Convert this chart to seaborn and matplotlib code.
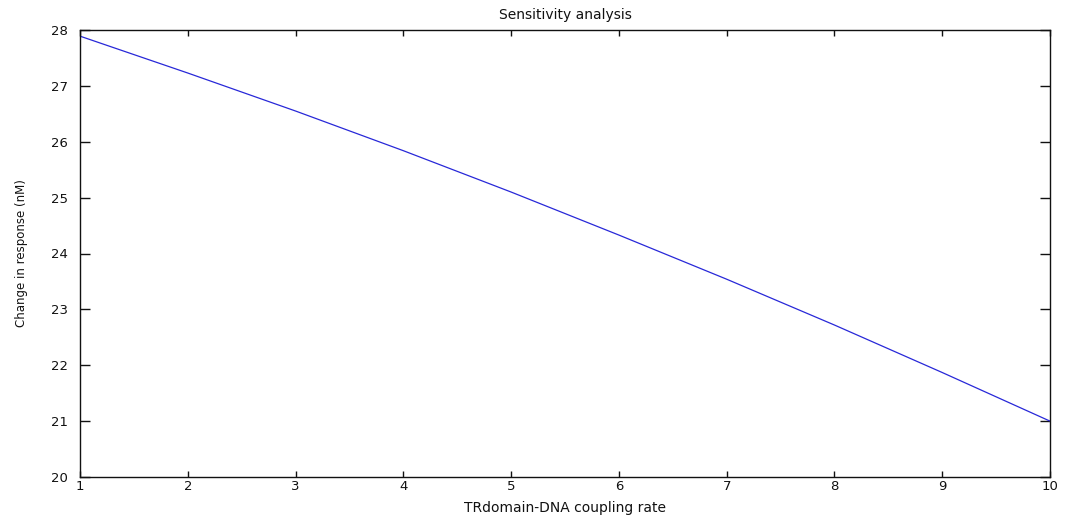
import matplotlib
matplotlib.use("Agg")
import matplotlib.pyplot as plt
import seaborn as sns
import pandas as pd

# Coupling rate sweep and resulting change in response
coupling_rate = [1, 2, 3, 4, 5, 6, 7, 8, 9, 10]
response_change = [27.89, 27.23, 26.55, 25.84, 25.10, 24.33, 23.54, 22.72, 21.87, 21.00]
x_ticks = [1, 2, 3, 4, 5, 6, 7, 8, 9, 10]
y_ticks = [20, 21, 22, 23, 24, 25, 26, 27, 28]

title_text = "Sensitivity analysis"
x_label = "TRdomain-DNA coupling rate"
y_label = "Change in response (nM)"

df = pd.DataFrame({"rate": coupling_rate, "response": response_change})

sns.set_theme(style="white")
plt.rcParams["font.family"] = ["DejaVu Sans"]

fig = plt.figure(figsize=(10.65, 5.21), dpi=100)
ax = fig.add_axes([80 / 1065, 44 / 521, 970 / 1065, 447 / 521])

sns.lineplot(data=df, x="rate", y="response", ax=ax, color="#2828d8",
             linewidth=0.9, estimator=None, sort=False)

ax.set_xlim(1, 10)
ax.set_ylim(20, 28)
ax.set_xticks(x_ticks)
ax.set_yticks(y_ticks)
ax.set_xticklabels([str(v) for v in x_ticks], fontsize=9.5)
ax.set_yticklabels([str(v) for v in y_ticks], fontsize=9.5)

for s in ax.spines.values():
    s.set_visible(True)
    s.set_color("#111111")
    s.set_linewidth(1.0)

ax.tick_params(axis="x", direction="in", length=4.5, width=1.0, color="#111111",
               top=True, bottom=True, pad=2, labelcolor="#111111")
ax.tick_params(axis="y", direction="in", length=7, width=1.0, color="#111111",
               left=True, right=True, pad=9, labelcolor="#111111")

ax.set_title(title_text, fontsize=10, pad=8, color="#111111")
ax.set_xlabel(x_label, fontsize=10, labelpad=6, color="#111111")
ax.set_ylabel(y_label, fontsize=8.5, labelpad=16, color="#111111")

fig.savefig("out.png", dpi=100, facecolor="white")
